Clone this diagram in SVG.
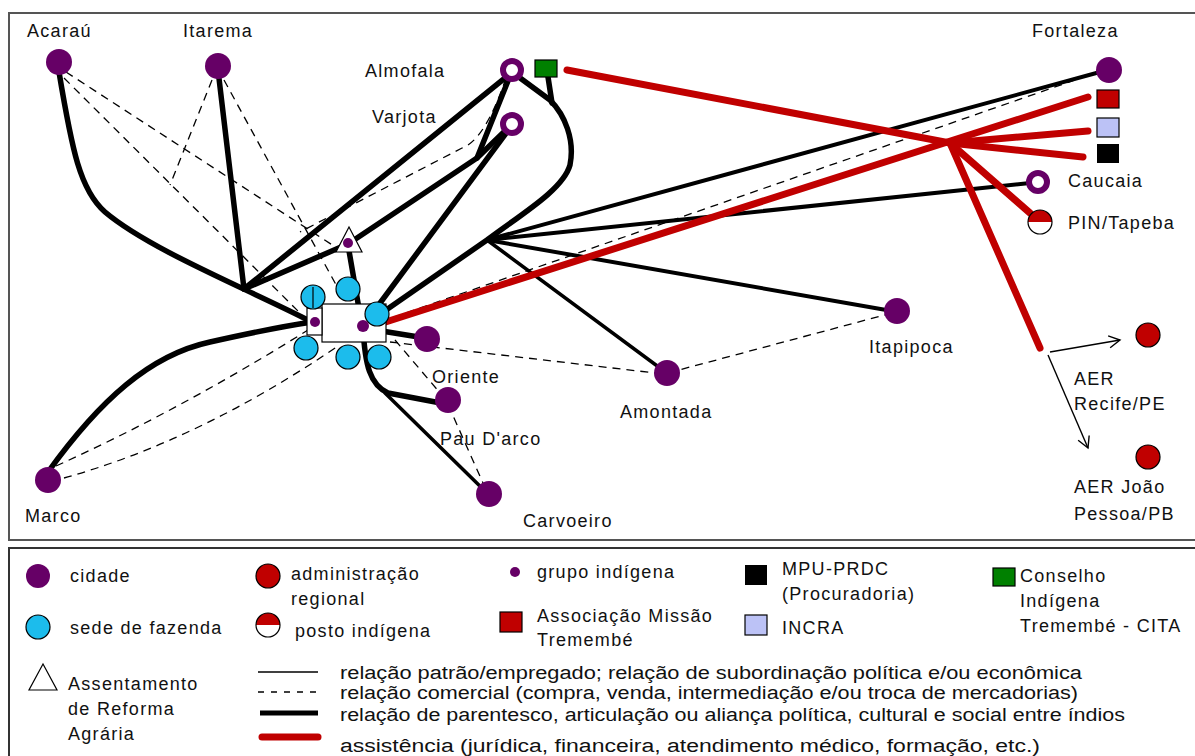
<svg xmlns="http://www.w3.org/2000/svg" width="1195" height="756" viewBox="0 0 1195 756">
<style>
text{font-family:"Liberation Sans",Arial,sans-serif;font-size:18px;fill:#111;letter-spacing:1.3px}
.lw{letter-spacing:0}
.city{fill:#660066}
.ring{fill:#fff;stroke:#660066;stroke-width:6}
.faz{fill:#1cbcec;stroke:#000;stroke-width:1.2}
.adm{fill:#c00000;stroke:#000;stroke-width:1.2}
.k{fill:none;stroke:#000;stroke-width:5.5;stroke-linecap:round;stroke-linejoin:round}
.m{fill:none;stroke:#000;stroke-width:3.5;stroke-linecap:round}
.t{fill:none;stroke:#000;stroke-width:1.4}
.d{fill:none;stroke:#000;stroke-width:1.3;stroke-dasharray:8 6}
.r{fill:none;stroke:#c00000;stroke-width:7;stroke-linecap:round}
.box{fill:#fff;stroke:#000;stroke-width:1.2}
</style>
<defs>
<marker id="arr" markerWidth="14" markerHeight="14" refX="12" refY="7" orient="auto" markerUnits="userSpaceOnUse">
<path d="M1,1 L12,7 L1,13" fill="none" stroke="#000" stroke-width="1.4"/>
</marker>
</defs>
<rect x="0" y="0" width="1195" height="756" fill="#fff"/>
<rect x="9" y="13" width="1192" height="527" fill="none" stroke="#555" stroke-width="2"/>
<rect x="9" y="548" width="1192" height="215" fill="none" stroke="#333" stroke-width="2"/>

<g id="connectors">
<!-- dashed commercial -->
<path class="d" d="M66,72 L340,250"/>
<path class="d" d="M64,78 L305,318"/>
<path class="d" d="M212,80 L170,185"/>
<path class="d" d="M224,80 L340,292"/>
<path class="d" d="M56,466 Q180,410 308,330"/>
<path class="d" d="M64,478 Q200,440 338,346"/>
<path class="d" d="M380,322 L1098,72"/>
<path class="d" d="M390,342 L664,374 L892,313"/>
<path class="d" d="M395,340 L446,400 L487,492"/>
<path class="d" d="M506,78 Q485,140 462,148 L300,232"/>
<!-- thick -->
<path class="k" d="M59,72 C72,150 80,190 105,212 C150,250 250,290 312,322"/>
<path class="k" d="M48,472 C100,400 150,355 210,342 C250,333 285,326 312,322"/>
<path class="k" d="M218,70 L244,289"/>
<path class="k" d="M244,289 L510,74"/>
<path class="k" d="M244,289 L348,244 L477,158 L510,76"/>
<path class="k" d="M477,158 L508,128"/>
<path class="k" d="M363,326 L510,128"/>
<path class="k" d="M512,72 L550,100 C565,115 575,140 570,165 C563,190 520,215 487,240 L363,326"/>
<path class="k" d="M548,77 L552,103"/>
<path class="k" style="stroke-width:4" d="M487,240 L1100,72"/>
<path class="k" style="stroke-width:4" d="M487,240 L1030,183"/>
<path class="k" style="stroke-width:4" d="M487,240 L892,311"/>
<path class="m" d="M487,240 L664,371"/>
<path class="k" d="M348,245 L362,326"/>
<path class="k" d="M363,328 L425,338"/>
<path class="k" d="M363,328 C365,365 370,385 388,393 L446,404"/>
<path class="m" d="M385,393 L488,494"/>
<!-- assistance -->
<path class="r" d="M370,327 L1088,97"/>
<path class="r" d="M567,70 L950,143"/>
<path class="r" d="M950,143 L1088,131"/>
<path class="r" d="M950,143 L1083,157"/>
<path class="r" d="M950,143 L1030,213"/>
<path class="r" d="M950,143 L1040,348"/>
<path class="t" d="M1050,352 L1120,340" marker-end="url(#arr)"/>
<path class="t" d="M1048,355 L1088,448" marker-end="url(#arr)"/>
</g>

<g id="acarau"><circle class="city" cx="59" cy="62" r="13"/><text x="27" y="37">Acaraú</text></g>
<g id="itarema"><circle class="city" cx="218" cy="66" r="13"/><text x="183" y="37">Itarema</text></g>
<g id="almofala"><circle class="ring" cx="512" cy="70" r="9"/><text x="365" y="77">Almofala</text></g>
<g id="cita"><rect x="535" y="60" width="22" height="17" fill="#008000" stroke="#000" stroke-width="1.2"/></g>
<g id="varjota"><circle class="ring" cx="512" cy="124" r="9"/><text x="372" y="123">Varjota</text></g>
<g id="fortaleza"><circle class="city" cx="1109" cy="70" r="13"/><text x="1032" y="37">Fortaleza</text></g>
<g id="missao-tremembe"><rect x="1097" y="90" width="22" height="18" fill="#c00000" stroke="#000" stroke-width="1.2"/></g>
<g id="incra"><rect x="1097" y="118" width="22" height="19" fill="#bcc2f6" stroke="#000" stroke-width="1.2"/></g>
<g id="mpu"><rect x="1097" y="144" width="22" height="19" fill="#000"/></g>
<g id="caucaia"><circle class="ring" cx="1038" cy="182" r="9"/><text x="1068" y="187">Caucaia</text></g>
<g id="pin-tapeba"><circle cx="1040" cy="222" r="12" fill="#fff"/><path d="M1028,222 A12,12 0 0 1 1052,222 Z" fill="#c00000"/><circle cx="1040" cy="222" r="12" fill="none" stroke="#000" stroke-width="1.2"/><text x="1068" y="229">PIN/Tapeba</text></g>
<g id="aer-recife"><circle class="adm" cx="1148" cy="335" r="12"/><text x="1074" y="385">AER</text><text x="1074" y="410">Recife/PE</text></g>
<g id="aer-joao-pessoa"><circle class="adm" cx="1148" cy="457" r="12"/><text x="1074" y="493">AER João</text><text x="1074" y="520">Pessoa/PB</text></g>
<g id="itapipoca"><circle class="city" cx="897" cy="311" r="13"/><text x="869" y="353">Itapipoca</text></g>
<g id="amontada"><circle class="city" cx="667" cy="373" r="13"/><text x="620" y="418">Amontada</text></g>
<g id="oriente"><circle class="city" cx="427" cy="339" r="13"/><text x="432" y="383">Oriente</text></g>
<g id="pau-darco"><circle class="city" cx="448" cy="400" r="13"/><text x="440" y="445">Pau D'arco</text></g>
<g id="carvoeiro"><circle class="city" cx="489" cy="494" r="13"/><text x="523" y="527">Carvoeiro</text></g>
<g id="marco"><circle class="city" cx="48" cy="480" r="13"/><text x="25" y="522">Marco</text></g>

<g id="central-cluster">
<rect class="box" x="322" y="304" width="64" height="38"/>
<rect class="box" x="307" y="308" width="15" height="27"/>
<circle class="faz" cx="313" cy="297" r="12"/>
<line x1="313" y1="287" x2="313" y2="308" stroke="#000" stroke-width="1.2"/>
<circle class="faz" cx="348" cy="289" r="12"/>
<circle class="faz" cx="377" cy="314" r="12"/>
<circle class="faz" cx="306" cy="348" r="12"/>
<circle class="faz" cx="348" cy="357" r="12"/>
<circle class="faz" cx="379" cy="357" r="12"/>
<path d="M349,227 L336,252 L362,252 Z" fill="#fff" stroke="#000" stroke-width="1.2"/>
<circle class="city" cx="348" cy="243" r="5"/>
<circle class="city" cx="315" cy="322" r="5"/>
<circle class="city" cx="363" cy="326" r="6"/>
</g>

<g id="legend">
<circle class="city" cx="38" cy="576" r="12"/><text x="70" y="582">cidade</text>
<circle class="faz" cx="38" cy="627" r="12"/><text x="70" y="634">sede de fazenda</text>
<path d="M43,664 L29,690 L57,690 Z" fill="#fff" stroke="#000" stroke-width="1.2"/>
<text x="68" y="690">Assentamento</text><text x="68" y="715">de Reforma</text><text x="68" y="740">Agrária</text>
<circle class="adm" cx="268" cy="576" r="12"/><text x="291" y="580">administração</text><text x="291" y="605">regional</text>
<circle cx="268" cy="625" r="12" fill="#fff"/><path d="M256,625 A12,12 0 0 1 280,625 Z" fill="#c00000"/><circle cx="268" cy="625" r="12" fill="none" stroke="#000" stroke-width="1.2"/>
<text x="295" y="637">posto indígena</text>
<circle class="city" cx="515" cy="572" r="5"/><text x="537" y="578">grupo indígena</text>
<rect x="500" y="612" width="22" height="20" fill="#c00000" stroke="#000" stroke-width="1.2"/><text x="537" y="622">Associação Missão</text><text x="537" y="646">Tremembé</text>
<rect x="745" y="565" width="22" height="20" fill="#000"/><text x="782" y="575">MPU-PRDC</text><text x="782" y="600">(Procuradoria)</text>
<rect x="745" y="615" width="22" height="20" fill="#bcc2f6" stroke="#000" stroke-width="1.2"/><text x="782" y="634">INCRA</text>
<rect x="993" y="568" width="22" height="18" fill="#008000" stroke="#000" stroke-width="1.2"/><text x="1020" y="582">Conselho</text><text x="1020" y="607">Indígena</text><text x="1020" y="632">Tremembé - CITA</text>
<line class="t" x1="258" y1="672" x2="318" y2="672"/>
<line class="d" x1="258" y1="692" x2="318" y2="692" style="stroke-dasharray:6 7"/>
<line x1="260" y1="713" x2="318" y2="713" stroke="#000" stroke-width="5"/>
<line class="r" x1="262" y1="737" x2="318" y2="737"/>
<text class="lw" x="340" y="679" textLength="742" lengthAdjust="spacingAndGlyphs">relação patrão/empregado; relação de subordinação política e/ou econômica</text>
<text class="lw" x="340" y="699" textLength="738" lengthAdjust="spacingAndGlyphs">relação comercial (compra, venda, intermediação e/ou troca de mercadorias)</text>
<text class="lw" x="340" y="721" textLength="785" lengthAdjust="spacingAndGlyphs">relação de parentesco, articulação ou aliança política, cultural e social entre índios</text>
<text class="lw" x="340" y="752" textLength="700" lengthAdjust="spacingAndGlyphs">assistência (jurídica, financeira, atendimento médico, formação, etc.)</text>
</g>
</svg>
